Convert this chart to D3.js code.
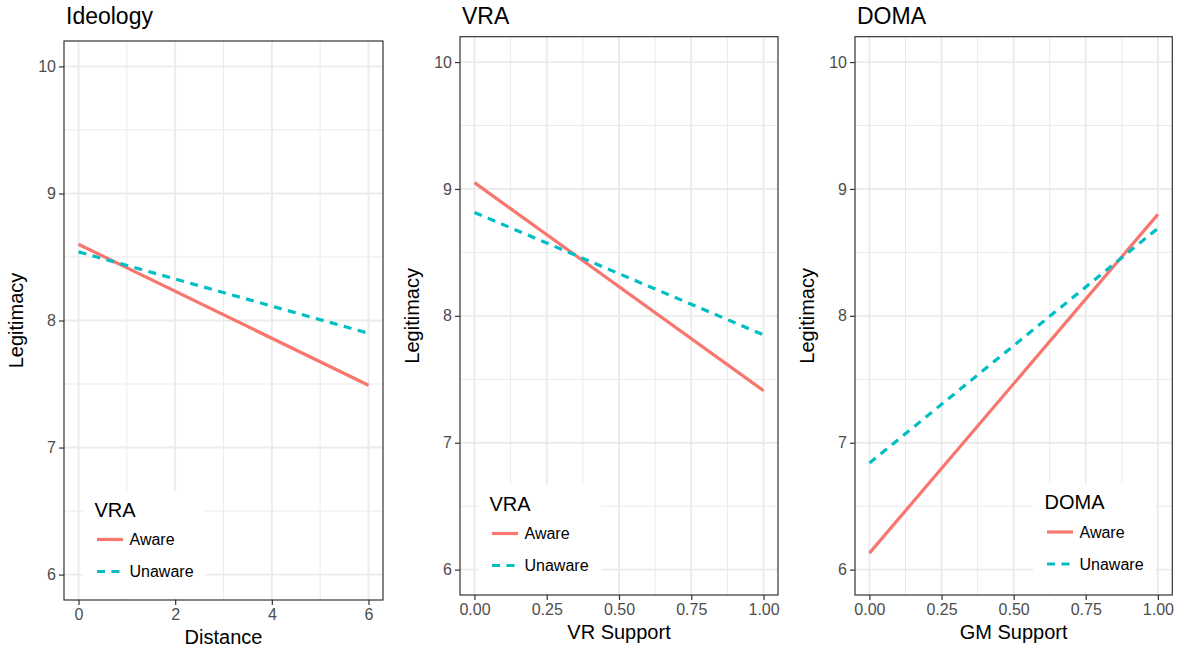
<!DOCTYPE html>
<html><head><meta charset="utf-8">
<script src="https://cdn.jsdelivr.net/npm/d3@7"></script>
<style>
body{margin:0;background:#fff;}
text{font-family:"Liberation Sans",Arial,Helvetica,sans-serif;}
</style></head>
<body><svg id="c" width="1178" height="650"></svg>
<script>
// ---- data ----
const panelTitles = ["Ideology", "VRA", "DOMA"];
const xAxisTitles = ["Distance", "VR Support", "GM Support"];
const legendTitles = ["VRA", "VRA", "DOMA"];
const groups = ["Aware", "Unaware"];
const xStart = [0, 0, 0];
const xEnd = [6, 1, 1];
const awareStart = [8.60, 9.05, 6.13];
const awareEnd = [7.49, 7.41, 8.80];
const unawareStart = [8.54, 8.815, 6.84];
const unawareEnd = [7.90, 7.85, 8.69];
const xTicks = [[0, 2, 4, 6], [0, 0.25, 0.5, 0.75, 1], [0, 0.25, 0.5, 0.75, 1]];
const xMinor = [[1, 3, 5], [0.125, 0.375, 0.625, 0.875], [0.125, 0.375, 0.625, 0.875]];
const xTickFormat = ["d", ".2f", ".2f"];
const yTicks = [6, 7, 8, 9, 10];
const yMinor = [6.5, 7.5, 8.5, 9.5];
const yTitle = "Legitimacy";

// ---- layout ----
const layout = [
  {l: 64, r: 383, t: 41, b: 600, xd: [-0.3, 6.3], leg: {x: 83, y: 491, w: 122, h: 107}},
  {l: 460, r: 778, t: 36.7, b: 595, xd: [-0.05, 1.05], leg: {x: 478, y: 485, w: 123, h: 108}},
  {l: 855, r: 1172.3, t: 36.7, b: 595, xd: [-0.05, 1.05], leg: {x: 1033, y: 483.5, w: 122, h: 109}}
];
const colors = {Aware: "#F8766D", Unaware: "#00BFC4"};
const dashes = {Aware: null, Unaware: "8,6.5"};
const svg = d3.select("#c");

layout.forEach((L, i) => {
  const x = d3.scaleLinear().domain(L.xd).range([L.l, L.r]);
  const y = d3.scaleLinear().domain([5.8, 10.2]).range([L.b, L.t]);
  const g = svg.append("g");
  // minor grid
  g.selectAll(".mx").data(xMinor[i]).join("line")
    .attr("x1", d => x(d)).attr("x2", d => x(d)).attr("y1", L.t).attr("y2", L.b)
    .attr("stroke", "#EBEBEB").attr("stroke-width", 1);
  g.selectAll(".my").data(yMinor).join("line")
    .attr("y1", d => y(d)).attr("y2", d => y(d)).attr("x1", L.l).attr("x2", L.r)
    .attr("stroke", "#EBEBEB").attr("stroke-width", 1);
  // major grid
  g.selectAll(".Mx").data(xTicks[i]).join("line")
    .attr("x1", d => x(d)).attr("x2", d => x(d)).attr("y1", L.t).attr("y2", L.b)
    .attr("stroke", "#EBEBEB").attr("stroke-width", 1.9);
  g.selectAll(".My").data(yTicks).join("line")
    .attr("y1", d => y(d)).attr("y2", d => y(d)).attr("x1", L.l).attr("x2", L.r)
    .attr("stroke", "#EBEBEB").attr("stroke-width", 1.9);

  // lines
  const series = [
    {k: "Aware", pts: [[xStart[i], awareStart[i]], [xEnd[i], awareEnd[i]]]},
    {k: "Unaware", pts: [[xStart[i], unawareStart[i]], [xEnd[i], unawareEnd[i]]]}
  ];
  const line = d3.line().x(d => x(d[0])).y(d => y(d[1]));
  g.selectAll(".ser").data(series).join("path")
    .attr("d", d => line(d.pts)).attr("fill", "none")
    .attr("stroke", d => colors[d.k]).attr("stroke-width", 3.2)
    .attr("stroke-dasharray", d => dashes[d.k]);

  // legend
  const lg = g.append("g");
  lg.append("rect").attr("x", L.leg.x).attr("y", L.leg.y).attr("width", L.leg.w).attr("height", L.leg.h).attr("fill", "#fff");
  lg.append("text").attr("x", L.leg.x + 11.5).attr("y", L.leg.y + 25.5).attr("font-size", 20).attr("fill", "#000").text(legendTitles[i]);
  groups.forEach((k, j) => {
    const ky = L.leg.y + 48.5 + j * 32;
    lg.append("line").attr("x1", L.leg.x + 14).attr("x2", L.leg.x + 40).attr("y1", ky).attr("y2", ky)
      .attr("stroke", colors[k]).attr("stroke-width", 3.2).attr("stroke-dasharray", dashes[k]);
    lg.append("text").attr("x", L.leg.x + 46.5).attr("y", ky).attr("dy", "0.36em").attr("font-size", 16).attr("fill", "#000").text(k);
  });

  // border
  g.append("rect").attr("x", L.l).attr("y", L.t).attr("width", L.r - L.l).attr("height", L.b - L.t)
    .attr("fill", "none").attr("stroke", "#333333").attr("stroke-width", 1.2);

  // axes
  const xa = d3.axisBottom(x).tickValues(xTicks[i]).tickFormat(d3.format(xTickFormat[i])).tickSize(5).tickPadding(4);
  const gx = g.append("g").attr("transform", `translate(0,${L.b})`).call(xa);
  gx.select(".domain").remove();
  gx.selectAll("line").attr("stroke", "#333333").attr("stroke-width", 1.2);
  gx.selectAll("text").attr("font-size", 16).attr("fill", "#4D4D4D");
  const ya = d3.axisLeft(y).tickValues(yTicks).tickFormat(d3.format("d")).tickSize(5).tickPadding(3);
  const gy = g.append("g").attr("transform", `translate(${L.l},0)`).call(ya);
  gy.select(".domain").remove();
  gy.selectAll("line").attr("stroke", "#333333").attr("stroke-width", 1.2);
  gy.selectAll("text").attr("font-size", 16).attr("fill", "#4D4D4D");

  // titles
  g.append("text").attr("x", L.l + 2).attr("y", 24).attr("font-size", 23).attr("fill", "#000").text(panelTitles[i]);
  g.append("text").attr("x", (L.l + L.r) / 2).attr("y", L.b + 44).attr("text-anchor", "middle")
    .attr("font-size", 20).attr("fill", "#000").text(xAxisTitles[i]);
  g.append("text").attr("transform", `translate(${L.l - 41},${(L.t + L.b) / 2}) rotate(-90)`)
    .attr("text-anchor", "middle").attr("font-size", 20).attr("fill", "#000").text(yTitle);
});
</script></body></html>
